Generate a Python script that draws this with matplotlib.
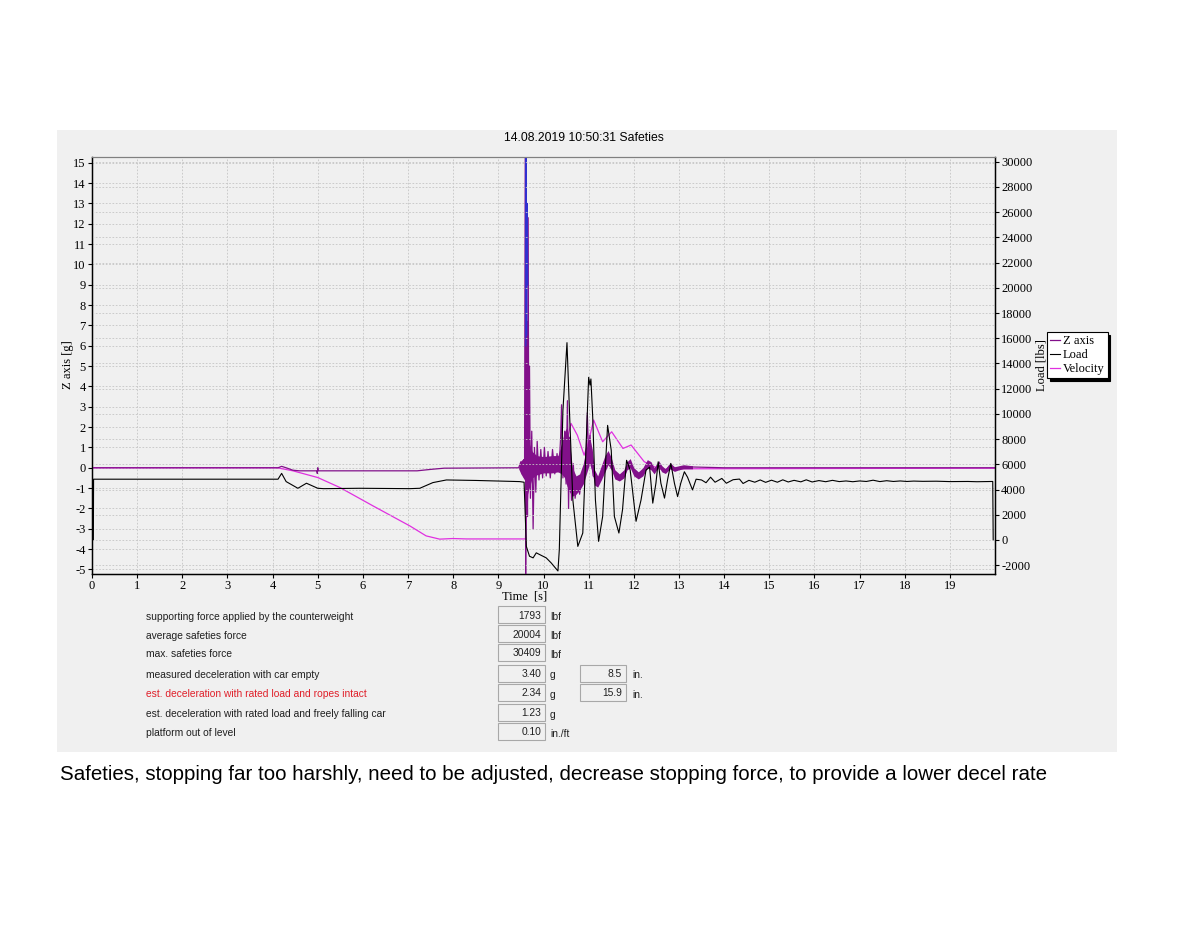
import matplotlib
matplotlib.use("Agg")
import matplotlib.pyplot as plt
from matplotlib.patches import Rectangle

plt.rcParams['font.family'] = ['Liberation Serif', 'DejaVu Serif']
plt.rcParams['font.size'] = 9
plt.rcParams['axes.unicode_minus'] = False

# ---- data ----
# Z axis acceleration [g] (left axis), thin trace
z_t = [0, 4.12, 4.2, 4.3, 4.45, 4.6, 4.98, 4.99, 5.0, 5.01, 7.2, 7.5, 7.8, 9.45,
       9.5, 9.53, 9.56, 9.58, 9.6, 9.605, 9.615, 9.63, 9.645, 9.66, 9.675, 9.69,
       9.71, 9.74, 9.77, 9.8, 9.83, 9.86, 9.9, 9.94, 9.98, 10.02, 10.06, 10.1,
       10.15, 10.2, 10.25, 10.3, 10.34, 10.38, 10.4, 10.43, 10.47, 10.5, 10.53,
       10.555, 10.58, 10.62, 10.66, 10.7, 10.75, 10.8, 10.85, 10.9, 10.95, 10.97,
       11.0, 11.03, 11.07, 11.1, 11.15, 11.2, 11.3, 11.43, 11.5, 11.6,
       11.68, 11.8, 11.9, 12.05, 12.15, 12.3, 12.45, 12.55, 12.7, 12.8, 12.9,
       13.1, 14.0, 20.0]
z_g = [0, 0, 0.07, 0.0, -0.12, -0.15, -0.15, -0.28, 0.0, -0.15, -0.15, -0.08, -0.02, 0.0,
       0.3, -0.3, 0.4, -0.5, 15.6, -5.3, 2.0, 7.2, -2.4, 12.3, -1.0, 5.0,
       -1.5, 1.8, -3.0, 1.0, -1.2, 1.3, -0.6, 0.9, -0.5, 1.0, -0.4, 0.8,
       -0.5, 0.9, -0.3, 0.7, -0.2, 1.5, 3.1, -0.5, 1.8, -0.8, 3.3,
       -2.0, 1.5, -1.6, 0.2, -1.5, -0.6, -1.3, -0.4, -0.6, 1.0, 2.7,
       0.6, 1.6, 0.2, -0.4, -0.5, -0.7, -0.2, 0.55, 0.2, -0.35,
       -0.45, -0.3, 0.25, -0.4, -0.35, 0.2, -0.15, 0.2, -0.15, 0.1, -0.05,
       0.05, 0.0, 0.0]

# Z axis noise band (min / max of the dense signal)
band_t = [9.45, 9.5, 9.58, 9.62, 9.68, 9.75, 9.85, 10.0, 10.2, 10.32, 10.4,
          10.47, 10.52, 10.58, 10.64, 10.72, 10.8, 10.88, 10.95, 11.02, 11.08,
          11.13, 11.2, 11.28, 11.36, 11.43, 11.5, 11.58, 11.68, 11.78, 11.85,
          11.92, 12.0, 12.1, 12.2, 12.3, 12.38, 12.45, 12.55, 12.62, 12.7, 12.8,
          12.9, 13.0, 13.1, 13.3]
band_lo = [-0.05, -0.3, -0.6, -1.5, -1.0, -0.5, -0.35, -0.25, -0.25, -0.2, -0.3,
           -0.5, -0.9, -1.2, -1.4, -1.3, -1.1, -0.8, -0.3, 0.2, -0.2,
           -0.85, -0.95, -0.6, -0.2, 0.15, -0.1, -0.55, -0.65, -0.5, -0.1,
           0.0, -0.4, -0.55, -0.4, 0.0, -0.1, -0.3, 0.05, -0.2, -0.28, -0.05,
           -0.18, -0.1, -0.05, -0.05]
band_hi = [0.05, 0.35, 0.5, 1.5, 1.2, 0.8, 0.6, 0.55, 0.6, 0.6, 1.2,
           1.8, 2.0, 1.2, 0.0, -0.4, -0.3, 0.2, 1.0, 1.5, 0.9,
           -0.1, -0.4, 0.1, 0.6, 0.85, 0.5, -0.1, -0.3, -0.1, 0.3,
           0.45, 0.0, -0.2, 0.0, 0.4, 0.3, 0.0, 0.35, 0.1, -0.05, 0.25,
           0.05, 0.1, 0.15, 0.1]

# short blue component of the impact spike [g]
blue_t = [9.61, 9.615, 9.625, 9.64, 9.65]
blue_g = [6.0, 15.6, 6.5, 13.0, 9.0]

# velocity (left axis scale)
vel_t = [0, 4.1, 4.45, 5.0, 5.49, 6.22, 7.04, 7.4, 7.7, 7.99, 8.3, 9.6, 9.62, 9.69,
         9.8, 10.4, 10.48, 10.61, 10.75, 10.9, 11.0, 11.11, 11.31, 11.51, 11.76,
         11.94, 12.23, 12.38, 12.55, 12.68, 12.8, 13.0, 20.0]
vel_v = [0, 0, -0.15, -0.48, -0.97, -1.87, -2.86, -3.35, -3.51, -3.48, -3.5, -3.5, -2.4, -0.15,
         0.0, 0.0, 1.0, 2.18, 1.6, 0.62, 1.3, 2.35, 1.28, 1.77, 0.95,
         1.12, 0.3, 0.13, -0.05, -0.11, 0.05, -0.05, -0.02]

# load [lbs] (right axis)
load_t = [0.03, 0.035, 4.12, 4.2, 4.3, 4.56, 4.75, 5.0, 5.13, 5.93, 7.04, 7.26, 7.55,
          7.85, 8.51, 9.47, 9.57, 9.62, 9.69, 9.77, 9.84, 9.91, 10.06, 10.17, 10.32,
          10.35, 10.43, 10.52, 10.58, 10.65, 10.76, 10.87, 10.94, 11.0, 11.03, 11.05,
          11.09, 11.15, 11.22, 11.31, 11.42, 11.5, 11.57, 11.67, 11.75, 11.84, 11.92,
          12.05, 12.16, 12.27, 12.35, 12.42, 12.49, 12.54, 12.6, 12.68, 12.75, 12.82,
          12.9, 12.97, 13.04, 13.12, 13.19, 13.3, 13.38,
          13.5, 13.6, 13.7, 13.8, 13.95, 14.05, 14.2, 14.34, 14.42, 14.55, 14.68, 14.8,
          14.92, 15.05, 15.18, 15.3, 15.42, 15.55, 15.7, 15.82, 15.95, 16.1, 16.25,
          16.4, 16.55, 16.7, 16.85, 17.0, 17.15, 17.3, 17.45, 17.6, 17.75, 17.9, 18.05,
          18.2, 18.4, 18.7, 19.0, 19.4, 19.6, 19.95, 19.96]
load_lbs = [20, 4820, 4820, 5280, 4630, 4100, 4500, 4100, 4070, 4100, 4070, 4100, 4550,
            4760, 4720, 4630, 4580, -510, -1290, -1420, -1020, -1150, -1420, -1820, -2460,
            -780, 10260, 15650, 9750, 3170, -510, 550, 7120, 12900, 12280, 12770,
            9750, 3170, -110, 1860, 9090, 7120, 1860, 550, 2390, 6320, 5540,
            1480, 3170, 5540, 5780, 2920, 4500, 6200, 4500, 3320, 4820, 6070,
            4500, 3440, 4500, 5410, 4980, 3970, 4820,
            4760, 4540, 4980, 4580, 4880, 4500, 4780, 4830, 4480, 4730, 4580, 4760,
            4570, 4740, 4580, 4770, 4600, 4730, 4610, 4770, 4600, 4710, 4620,
            4730, 4630, 4680, 4620, 4680, 4640, 4740, 4630, 4700, 4640, 4680, 4640,
            4670, 4650, 4660, 4630, 4640, 4620, 4640, 20]

x_ticks = list(range(0, 20))
left_ticks = list(range(-5, 16))
right_ticks = list(range(-2000, 30001, 2000))

table_labels = ["supporting force applied by the counterweight",
                "average safeties force",
                "max. safeties force",
                "measured deceleration with car empty",
                "est. deceleration with rated load and ropes intact",
                "est. deceleration with rated load and freely falling car",
                "platform out of level"]
table_values = ["1793", "20004", "30409", "3.40", "2.34", "1.23", "0.10"]
table_units = ["lbf", "lbf", "lbf", "g", "g", "g", "in./ft"]
table_extra = [None, None, None, "8.5", "15.9", None, None]

caption = ("Safeties, stopping far too harshly, need to be adjusted, decrease "
           "stopping force, to provide a lower decel rate")

# ---- figure ----
W, H = 1200, 927
fig = plt.figure(figsize=(12, 9.27), dpi=100)


def fx(px):
    return px / W


def fy(py):
    return 1 - py / H


fig.patches.append(Rectangle((fx(57), fy(752)), fx(1117 - 57), (752 - 130) / H,
                             transform=fig.transFigure, facecolor='#f0f0f0',
                             edgecolor='none', zorder=-5))

ax = fig.add_axes([fx(92), fy(573.5), fx(995 - 92), (573.5 - 156.7) / H])
ax.set_facecolor('#f0f0f0')
ax2 = ax.twinx()

grid_kw = dict(color='#c4c4c4', linestyle=(0, (2, 2)), linewidth=0.6)

z_col = '#82108a'
vel_col = '#e030e0'

lz, = ax.plot(z_t, z_g, color=z_col, lw=0.9, label='Z axis', zorder=3)
ax.fill_between(band_t, band_lo, band_hi, color=z_col, lw=0, zorder=3)
ax.plot(blue_t, blue_g, color='#3030d0', lw=0.9, zorder=3)
lv, = ax.plot(vel_t, vel_v, color=vel_col, lw=0.9, label='Velocity', zorder=2)
ll, = ax2.plot(load_t, load_lbs, color='black', lw=0.8, label='Load', zorder=3)

ax.set_xlim(0, 20)
ax.set_ylim(-5.2, 15.3)
ax2.set_ylim(-2660, 30400)
ax.set_xticks(x_ticks)
ax.set_yticks(left_ticks)
ax2.set_yticks(right_ticks)
ax.grid(True, which='major', **grid_kw)
ax2.grid(True, axis='y', **grid_kw)
ax.set_axisbelow(True)
ax2.set_axisbelow(True)

for a in (ax, ax2):
    a.tick_params(direction='out', length=3, width=0.8, labelsize=9, pad=1.5)
    a.spines['top'].set_color('#808080')
ax.spines['left'].set_linewidth(1.0)
ax.spines['bottom'].set_linewidth(1.0)
ax2.spines['right'].set_linewidth(1.0)

ax.set_ylabel('Z axis [g]', fontsize=9)
ax.yaxis.set_label_coords((74 - 92) / (995 - 92), 0.5)
ax2.set_ylabel('Load [lbs]', fontsize=9, labelpad=2)
ax.set_xlabel('Time  [s]', fontsize=9)
ax.xaxis.set_label_coords((525 - 92) / (995 - 92), -0.041)

fig.text(fx(584), fy(138), '14.08.2019 10:50:31 Safeties', ha='center', va='center',
         fontsize=8.8, family='Liberation Sans')

leg = fig.legend(handles=[lz, ll, lv], loc='upper left',
                 bbox_to_anchor=(fx(1047), fy(332)), bbox_transform=fig.transFigure,
                 fontsize=9, handlelength=0.8, handletextpad=0.2, borderpad=0.25,
                 labelspacing=0.15, fancybox=False, framealpha=1,
                 shadow={'color': 'black', 'alpha': 1}, borderaxespad=0)
leg.get_frame().set_edgecolor('black')
leg.get_frame().set_linewidth(0.8)

# ---- results table ----
row_y = [616.7, 635.7, 654.3, 675, 694.3, 714, 733.3]
tfont = dict(fontsize=7.4, family='Liberation Sans')
for i, lab in enumerate(table_labels):
    y = row_y[i]
    col = '#e0202a' if i == 4 else '#202020'
    fig.text(fx(145.5), fy(y), lab, ha='left', va='center', color=col, **tfont)
    fig.patches.append(Rectangle((fx(498), fy(y + 6.5)), fx(47), 17 / H,
                                 transform=fig.transFigure, facecolor='#f0f0f0',
                                 edgecolor='#a8a8a8', lw=0.8))
    fig.text(fx(541), fy(y - 1), table_values[i], ha='right', va='center',
             color='#202020', **tfont)
    fig.text(fx(550), fy(y + 0.5), table_units[i], ha='left', va='center',
             color='#202020', **tfont)
    if table_extra[i] is not None:
        fig.patches.append(Rectangle((fx(580), fy(y + 6.5)), fx(46), 17 / H,
                                     transform=fig.transFigure, facecolor='#f0f0f0',
                                     edgecolor='#a8a8a8', lw=0.8))
        fig.text(fx(622), fy(y - 1), table_extra[i], ha='right', va='center',
                 color='#202020', **tfont)
        fig.text(fx(632), fy(y + 0.5), 'in.', ha='left', va='center',
                 color='#202020', **tfont)

fig.text(fx(60), fy(775), caption, ha='left', va='center', fontsize=14.8,
         family='Liberation Sans', color='black')

fig.savefig('out.png', dpi=100, facecolor='white')
